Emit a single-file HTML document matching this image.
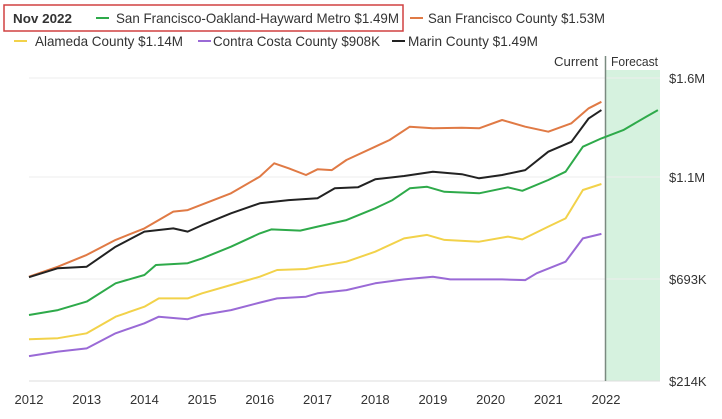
<!DOCTYPE html>
<html><head><meta charset="utf-8"><style>
body{margin:0;background:#fff;font-family:"Liberation Sans",sans-serif;}
svg{display:block}
text{font-family:"Liberation Sans",sans-serif;fill:#333;}
</style></head><body>
<svg id="chart" width="722" height="419" viewBox="0 0 722 419">
  <g id="legend">
    <rect x="4" y="5" width="399" height="26" fill="none" stroke="#d04040" stroke-width="1.5"/>
    <text x="13" y="23" font-size="13" font-weight="bold" fill="#222" textLength="59" lengthAdjust="spacingAndGlyphs">Nov 2022</text>
  </g>
  <rect x="605" y="70" width="55" height="311" fill="#d6f2df"/>
  <g id="grid"></g>
  <line x1="605.5" y1="56" x2="605.5" y2="381" stroke="#7a8a80" stroke-width="1.5"/>
  <text x="598" y="66" font-size="13" text-anchor="end" textLength="44" lengthAdjust="spacingAndGlyphs">Current</text>
  <text x="611" y="66" font-size="13" textLength="47" lengthAdjust="spacingAndGlyphs">Forecast</text>
  <g id="series"></g>
  <g id="xaxis"></g>
  <g id="yaxis"></g>
</svg>
<script>
const yTicks=[214,693,1100,1600];
const yTickLabels=["$214K","$693K","$1.1M","$1.6M"];
const xTicks=[2012,2013,2014,2015,2016,2017,2018,2019,2020,2021,2022];
const sfYears=[2012,2012.5,2013,2013.5,2014,2014.5,2014.75,2015.5,2016,2016.25,2016.5,2016.8,2017,2017.25,2017.5,2018,2018.25,2018.6,2019,2019.5,2019.8,2020.2,2020.6,2021,2021.4,2021.7,2021.92];
const sfValues=[702,742,789,849,895,962,968,1035,1102,1169,1144,1110,1139,1135,1186,1253,1287,1354,1346,1349,1346,1388,1354,1329,1371,1447,1480];
const marinYears=[2012,2012.5,2013,2013.5,2014,2014.5,2014.75,2015,2015.5,2016,2016.5,2017,2017.3,2017.7,2018,2018.5,2019,2019.5,2019.8,2020.2,2020.6,2021,2021.4,2021.7,2021.92];
const marinValues=[700,736,742,822,882,895,882,908,955,995,1008,1015,1055,1059,1091,1105,1127,1114,1095,1110,1135,1228,1278,1396,1438];
const metroYears=[2012,2012.5,2013,2013.5,2014,2014.2,2014.75,2015,2015.5,2016,2016.2,2016.7,2017,2017.5,2018,2018.3,2018.6,2018.9,2019.2,2019.8,2020.3,2020.55,2021,2021.3,2021.6,2021.92,2022.3,2022.7,2022.9];
const metroValues=[524,547,587,673,709,749,756,775,822,875,891,886,902,928,975,1008,1055,1061,1041,1035,1059,1045,1088,1127,1253,1295,1337,1405,1438];
const alamedaYears=[2012,2012.5,2013,2013.5,2014,2014.25,2014.75,2015,2015.5,2016,2016.3,2016.8,2017,2017.5,2018,2018.5,2018.9,2019.2,2019.8,2020.3,2020.55,2021,2021.3,2021.6,2021.92];
const alamedaValues=[410,415,438,516,563,602,602,626,665,702,729,733,742,762,802,855,869,849,842,862,851,902,935,1048,1072];
const contraYears=[2012,2012.5,2013,2013.5,2014,2014.25,2014.75,2015,2015.5,2016,2016.3,2016.8,2017,2017.5,2018,2018.5,2019,2019.3,2019.8,2020.2,2020.6,2020.8,2021.3,2021.6,2021.92];
const contraValues=[331,352,367,438,485,516,504,524,547,582,602,610,626,641,673,691,702,691,691,691,688,716,762,855,873];
const seriesNames=["San Francisco-Oakland-Hayward Metro $1.49M","San Francisco County $1.53M","Alameda County $1.14M","Contra Costa County $908K","Marin County $1.49M"];

const NS="http://www.w3.org/2000/svg";
const yPix=[381,279,177,78];
function yScale(v){
  for(let i=0;i<yTicks.length-1;i++){
    if(v<=yTicks[i+1]||i===yTicks.length-2){
      const t=(v-yTicks[i])/(yTicks[i+1]-yTicks[i]);
      return yPix[i]+t*(yPix[i+1]-yPix[i]);
    }
  }
}
function xScale(yr){return 29+(yr-2012)*57.7;}
function mk(tag,attrs,parent){const e=document.createElementNS(NS,tag);for(const k in attrs)e.setAttribute(k,attrs[k]);parent.appendChild(e);return e;}

const grid=document.getElementById('grid'),yaxis=document.getElementById('yaxis'),xaxis=document.getElementById('xaxis');
yTicks.forEach((v,i)=>{
  const y=yScale(v);
  const l=mk('line',{x1:29,x2:660,y1:y,y2:y,stroke:i===0?'#ddd':'#eee','stroke-width':1},grid);
  
  
  const t=mk('text',{x:669,y:y+5,'font-size':13},yaxis);
  t.textContent=yTickLabels[i];
  
  
});
xTicks.forEach(yr=>{
  const t=mk('text',{x:xScale(yr),y:404,'font-size':13,'text-anchor':'middle'},xaxis);
  t.textContent=yr;
  
  
});
const colors=["#2eaa4a","#e07a45","#f2d24a","#9a6ad6","#222"];
const data=[[metroYears,metroValues],[sfYears,sfValues],[alamedaYears,alamedaValues],[contraYears,contraValues],[marinYears,marinValues]];
const sg=document.getElementById('series');
[2,3,0,1,4].forEach(i=>{
  const [xs,vs]=data[i];
  const d=xs.map((x,j)=>(j?'L':'M')+xScale(x).toFixed(1)+','+yScale(vs[j]).toFixed(1)).join(' ');
  const p=mk('path',{d:d,fill:'none',stroke:colors[i],'stroke-width':2,'stroke-linejoin':'round'},sg);
  
  
});
// legend
const lg=document.getElementById('legend');
const pos=[[96,18,116,283],[410,18,428,177],[14,41,35,148],[198,41,213,167],[392,41,408,130]];
seriesNames.forEach((n,i)=>{
  const [x,y,tx,tw]=pos[i];
  const l=mk('line',{x1:x,x2:x+13,y1:y,y2:y,stroke:colors[i],'stroke-width':2},lg);
  
  
  const t=mk('text',{x:tx,y:y+5,'font-size':14,fill:'#333',textLength:tw,lengthAdjust:'spacingAndGlyphs'},lg);
  t.textContent=n;
  
  
});
</script>
</body></html>
